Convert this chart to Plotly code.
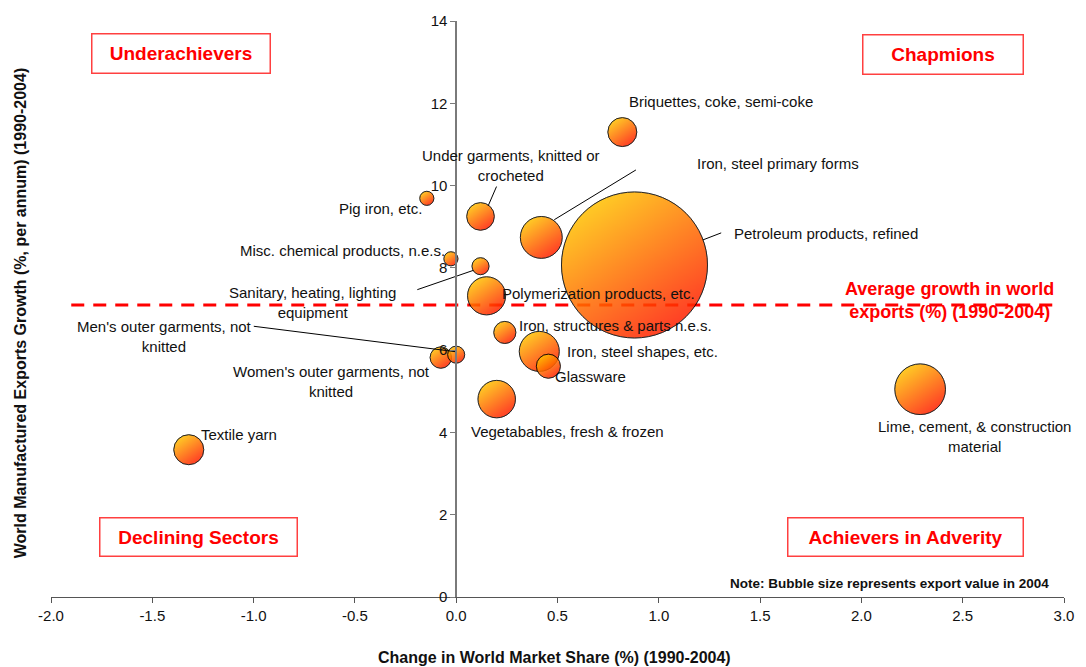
import plotly.graph_objects as go

# Sector data: change in world market share (x), export growth (y), export value 2004 (bubble area)
sectors = [
    "Briquettes, coke, semi-coke", "Under garments, knitted or crocheted",
    "Iron, steel primary forms", "Pig iron, etc.", "Misc. chemical products, n.e.s.",
    "Petroleum products, refined", "Sanitary, heating, lighting equipment",
    "Polymerization products, etc.", "Iron, structures & parts n.e.s.",
    "Men's outer garments, not knitted", "Iron, steel shapes, etc.",
    "Women's outer garments, not knitted", "Glassware", "Vegetabables, fresh & frozen",
    "Textile yarn", "Lime, cement, & construction material",
]
share_change = [0.82, 0.12, 0.42, -0.145, -0.026, 0.88, 0.12, 0.15, 0.24, 0.0, 0.41,
                -0.076, 0.455, 0.20, -1.32, 2.29]
export_growth = [11.30, 9.25, 8.74, 9.69, 8.22, 8.07, 8.04, 7.32, 6.43, 5.89, 5.97,
                 5.82, 5.61, 4.81, 3.58, 5.05]
export_value = [11, 10, 23, 2.6, 2.6, 280, 3.8, 19, 6.4, 3.8, 21, 6, 7.6, 18.4, 11.8, 33.7]

avg_growth = 7.1
avg_line_x = [-1.9, 2.95]

x_tickvals = [-2.0, -1.5, -1.0, -0.5, 0.0, 0.5, 1.0, 1.5, 2.0, 2.5, 3.0]
x_ticktext = ["-2.0", "-1.5", "-1.0", "-0.5", "0.0", "0.5", "1.0", "1.5", "2.0", "2.5", "3.0"]

FONT = "Liberation Sans, Arial, sans-serif"
YELLOW = "#FFE000"
RED = "#FF0000"

fig = go.Figure()

# Average growth reference line
fig.add_trace(go.Scatter(
    x=avg_line_x, y=[avg_growth, avg_growth], mode="lines",
    line=dict(color="#FF0000", width=3, dash="13px,9px"),
    hoverinfo="skip", showlegend=False,
))

# Bubbles: a horizontal gradient blended with a half-opaque vertical one gives a diagonal shading
max_d = 146
sizeref = 2.0 * max(export_value) / (max_d ** 2)
order = sorted(range(len(sectors)), key=lambda i: -export_value[i])
for i in order:
    common = dict(x=[share_change[i]], y=[export_growth[i]], mode="markers",
                  hoverinfo="text", hovertext=[sectors[i]], showlegend=False)
    fig.add_trace(go.Scatter(
        **common,
        marker=dict(size=[export_value[i]], sizemode="area", sizeref=sizeref,
                    color=YELLOW, gradient=dict(type="horizontal", color=RED),
                    line=dict(color="black", width=1)),
    ))
    fig.add_trace(go.Scatter(
        **common,
        marker=dict(size=[export_value[i]], sizemode="area", sizeref=sizeref,
                    color=YELLOW, gradient=dict(type="vertical", color=RED),
                    opacity=0.5, line=dict(color="black", width=1)),
    ))

# Leader lines from labels to bubbles
leaders = [
    ([0.199, 0.158], [9.976, 9.51]),
    ([0.887, 0.484], [10.38, 9.17]),
    ([1.308, 1.218], [8.85, 8.68]),
    ([-0.192, 0.085], [7.47, 7.94]),
    ([-0.999, 0.0], [6.58, 5.96]),
]
for lx, ly in leaders:
    fig.add_trace(go.Scatter(x=lx, y=ly, mode="lines", line=dict(color="black", width=1),
                             hoverinfo="skip", showlegend=False))

# Bubble labels: (text, x, y, anchor)
labels = [
    ("Briquettes, coke, semi-coke", 0.844, 12.05, "left"),
    ("Under garments, knitted or<br>crocheted", 0.268, 10.50, "center"),
    ("Iron, steel primary forms", 1.18, 10.53, "left"),
    ("Pig iron, etc.", -0.158, 9.44, "right"),
    ("Misc. chemical products, n.e.s.", -0.045, 8.41, "right"),
    ("Petroleum products, refined", 1.362, 8.84, "left"),
    ("Sanitary, heating, lighting<br>equipment", -0.711, 7.15, "center"),
    ("Polymerization products, etc.", 0.214, 7.37, "left"),
    ("Iron, structures & parts n.e.s.", 0.302, 6.59, "left"),
    ("Men's outer garments, not<br>knitted", -1.44, 6.33, "center"),
    ("Iron, steel shapes, etc.", 0.538, 5.97, "left"),
    ("Women's outer garments, not<br>knitted", -0.614, 5.23, "center"),
    ("Glassware", 0.478, 5.36, "left"),
    ("Vegetabables, fresh & frozen", 0.062, 4.03, "left"),
    ("Textile yarn", -1.268, 3.96, "left"),
    ("Lime, cement, & construction<br>material", 2.556, 3.89, "center"),
]
annotations = []
for text, ax, ay, anc in labels:
    annotations.append(dict(text=text, x=ax, y=ay, xref="x", yref="y", xanchor=anc,
                            yanchor="middle", showarrow=False, align="center",
                            font=dict(family=FONT, size=15, color="#111111")))

annotations.append(dict(text="<b>Average growth in world<br>exports (%) (1990-2004)</b>",
                        x=2.434, y=7.20, xref="x", yref="y", showarrow=False,
                        xanchor="center", yanchor="middle", align="center",
                        font=dict(family=FONT, size=18, color="#FF0000")))
annotations.append(dict(text="<b>Note: Bubble size represents export value in 2004</b>",
                        x=2.937, y=0.34, xref="x", yref="y", xanchor="right",
                        yanchor="middle", showarrow=False,
                        font=dict(family=FONT, size=13.5, color="#111111")))

# Quadrant boxes: (text, paper x, paper y, width, height)
quadrants = [
    ("Underachievers", 0.1288, 0.943, 179, 40),
    ("Chapmions", 0.881, 0.941, 161, 40),
    ("Declining Sectors", 0.146, 0.105, 198, 39),
    ("Achievers in Adverity", 0.844, 0.105, 236, 39),
]
for text, qx, qy, w, h in quadrants:
    annotations.append(dict(text="<b>%s</b>" % text, x=qx, y=qy, xref="paper", yref="paper",
                            xanchor="center", yanchor="middle",
                            showarrow=False, width=w - 2, height=h - 2, borderpad=0,
                            bordercolor="#FF4040", borderwidth=1.5, bgcolor="white",
                            font=dict(family=FONT, size=19, color="#FF0000")))

# Axis titles
annotations.append(dict(text="<b>World Manufactured Exports Growth (%, per annum) (1990-2004)</b>",
                        x=-0.0304, y=0.493, xref="paper", yref="paper", textangle=-90,
                        xanchor="center", yanchor="middle",
                        showarrow=False, font=dict(family=FONT, size=16, color="#111111")))
annotations.append(dict(text="<b>Change in World Market Share (%) (1990-2004)</b>",
                        x=0.4966, y=-0.105, xref="paper", yref="paper", showarrow=False,
                        xanchor="center", yanchor="middle",
                        font=dict(family=FONT, size=16, color="#111111")))

fig.update_layout(
    width=1086, height=667,
    margin=dict(l=51, r=14, t=12, b=70),
    paper_bgcolor="white", plot_bgcolor="white",
    font=dict(family=FONT, size=14, color="#111111"),
    annotations=annotations,
    xaxis=dict(range=[-2, 3], tickvals=x_tickvals, ticktext=x_ticktext, ticks="outside",
               ticklen=5, tickcolor="#555555", showline=True, linecolor="#555555",
               linewidth=1, showgrid=False, zeroline=False, tickfont=dict(size=15)),
    yaxis=dict(range=[0, 14], dtick=2, ticks="outside", ticklen=5, anchor="free",
               position=0.4, tickcolor="#7a7a7a", showline=True, linecolor="#7a7a7a",
               linewidth=1.5, showgrid=False, zeroline=False, tickfont=dict(size=15)),
)

fig.write_html("out.html")
